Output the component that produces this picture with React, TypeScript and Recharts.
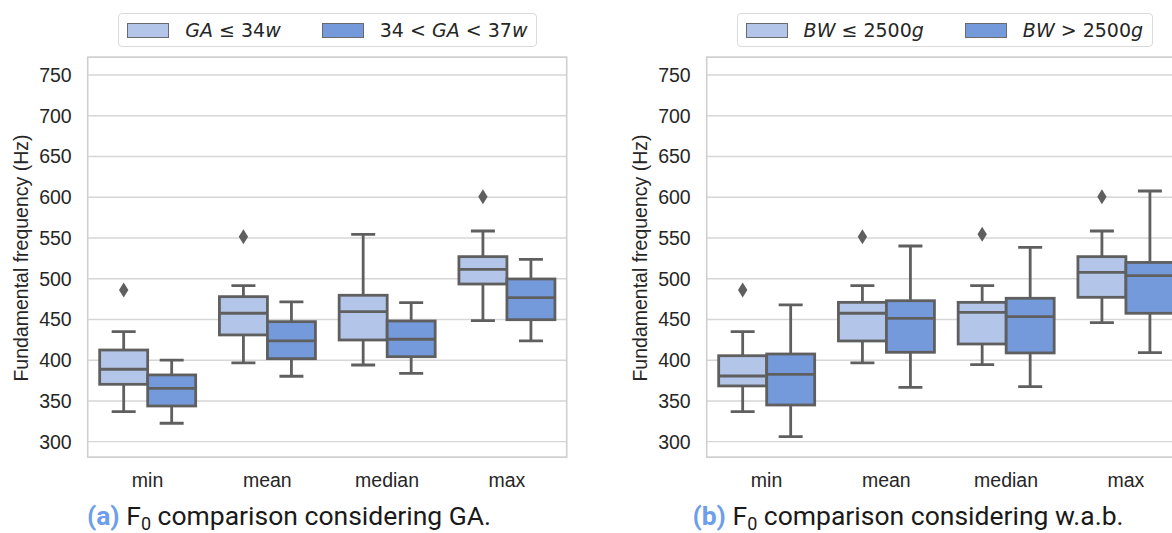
import React from 'react';
import {
  BarChart,
  Bar,
  XAxis,
  YAxis,
  CartesianGrid,
  ReferenceArea,
} from 'recharts';

// categories + axis
const categories = ['min', 'mean', 'median', 'max'];
const yTicks = [300, 350, 400, 450, 500, 550, 600, 650, 700, 750];
const yDomain: [number, number] = [280.8, 771.8];

// (a) GA <= 34w
const gaPreLo = [336.8, 396.6, 394.1, 448.5];
const gaPreQ1 = [370.4, 431.0, 424.8, 493.5];
const gaPreMed = [388.9, 457.6, 459.6, 511.6];
const gaPreQ3 = [412.5, 478.0, 479.7, 527.1];
const gaPreHi = [435.0, 491.5, 554.5, 558.6];
const gaPreOut = [[486.2], [551.6], [], [600.7]];

// (a) 34 < GA < 37w
const gaLateLo = [322.6, 380.3, 383.9, 423.6];
const gaLateQ1 = [343.8, 401.9, 404.3, 449.7];
const gaLateMed = [365.5, 423.6, 425.7, 476.7];
const gaLateQ3 = [381.9, 447.3, 448.1, 499.7];
const gaLateHi = [400.0, 471.5, 470.6, 523.8];
const gaLateOut: number[][] = [[], [], [], []];

// (b) BW <= 2500g
const bwLowLo = [336.8, 396.6, 394.5, 446.0];
const bwLowQ1 = [368.4, 423.6, 419.9, 477.2];
const bwLowMed = [380.6, 457.6, 458.8, 507.9];
const bwLowQ3 = [405.5, 471.0, 471.0, 527.1];
const bwLowHi = [435.0, 491.5, 491.5, 558.6];
const bwLowOut = [[486.2], [551.6], [554.5], [600.7]];

// (b) BW > 2500g
const bwHighLo = [306.1, 366.7, 367.5, 409.2];
const bwHighQ1 = [345.0, 409.7, 408.9, 457.6];
const bwHighMed = [382.7, 451.4, 453.4, 503.7];
const bwHighQ3 = [407.6, 473.0, 476.0, 520.0];
const bwHighHi = [467.8, 540.2, 538.6, 607.7];
const bwHighOut: number[][] = [[], [], [], []];

const LIGHT = '#b3c6e9';
const DARK = '#759adc';
const EDGE = '#5f5f5f';
const TEXT = '#262626';

interface Stats {
  lo: number[];
  q1: number[];
  med: number[];
  q3: number[];
  hi: number[];
  out: number[][];
}

const buildRows = (a: Stats, b: Stats) =>
  categories.map((cat, i) => ({
    cat,
    a: { lo: a.lo[i], q1: a.q1[i], med: a.med[i], q3: a.q3[i], hi: a.hi[i], out: a.out[i] },
    b: { lo: b.lo[i], q1: b.q1[i], med: b.med[i], q3: b.q3[i], hi: b.hi[i], out: b.out[i] },
  }));

// box drawn from the bar rect (q1..q3); other stats placed with the same px/unit ratio
const boxShape = (key: 'a' | 'b', fill: string) => (props: any) => {
  const { x, y, width, height, payload } = props;
  const s = payload[key];
  const top = Math.min(y, y + height);
  const h = Math.abs(height);
  const bottom = top + h;
  const k = h / (s.q3 - s.q1);
  const py = (v: number) => bottom - (v - s.q1) * k;
  const cx = x + width / 2;
  const cap = width / 4;
  return (
    <g>
      <line x1={cx} x2={cx} y1={top} y2={py(s.hi)} stroke={EDGE} strokeWidth={2.8} />
      <line x1={cx} x2={cx} y1={bottom} y2={py(s.lo)} stroke={EDGE} strokeWidth={2.8} />
      <line x1={cx - cap} x2={cx + cap} y1={py(s.hi)} y2={py(s.hi)} stroke={EDGE} strokeWidth={2.8} />
      <line x1={cx - cap} x2={cx + cap} y1={py(s.lo)} y2={py(s.lo)} stroke={EDGE} strokeWidth={2.8} />
      <rect x={x} y={top} width={width} height={h} fill={fill} stroke={EDGE} strokeWidth={2.8} />
      <line x1={x} x2={x + width} y1={py(s.med)} y2={py(s.med)} stroke={EDGE} strokeWidth={2.8} />
      {s.out.map((v: number, i: number) => {
        const oy = py(v);
        return (
          <path
            key={i}
            d={`M${cx},${oy - 7.5}L${cx + 4.7},${oy}L${cx},${oy + 7.5}L${cx - 4.7},${oy}Z`}
            fill={EDGE}
          />
        );
      })}
    </g>
  );
};

const Patch = ({ color }: { color: string }) => (
  <span
    style={{
      display: 'inline-block',
      width: 40,
      height: 13,
      background: color,
      border: '1px solid #6a6a6a',
      marginRight: 16,
    }}
  />
);

interface PanelProps {
  left: number;
  a: Stats;
  b: Stats;
  labelA: React.ReactNode;
  labelB: React.ReactNode;
  legendLeft: number;
  tag: string;
  caption: string;
}

const Panel: React.FC<PanelProps> = ({ left, a, b, labelA, labelB, legendLeft, tag, caption }) => {
  const rows = buildRows(a, b);
  return (
    <div style={{ position: 'absolute', left, top: 0, width: 590, height: 533 }}>
      <BarChart
        width={590}
        height={533}
        data={rows}
        margin={{ top: 57.3, right: 23.3, left: 27.7, bottom: 45.7 }}
        barCategoryGap="10%"
        barGap={0}
      >
        <CartesianGrid vertical={false} stroke="#d6d6d6" strokeWidth={1.4} />
        <XAxis
          dataKey="cat"
          height={30}
          axisLine={false}
          tickLine={false}
          tickSize={0}
          tickMargin={16}
          tick={{ fill: TEXT, fontSize: 19.5, fontFamily: 'Liberation Sans' }}
        />
        <YAxis
          type="number"
          domain={yDomain}
          ticks={yTicks}
          allowDataOverflow
          width={60}
          axisLine={false}
          tickLine={false}
          tickSize={0}
          tickMargin={16}
          tick={{ fill: TEXT, fontSize: 19.5, fontFamily: 'Liberation Sans' }}
        />
        <ReferenceArea y1={yDomain[0]} y2={yDomain[1]} fill="none" stroke="#cfcfcf" strokeWidth={1.6} />
        <Bar dataKey={(d: any) => [d.a.q1, d.a.q3]} shape={boxShape('a', LIGHT)} isAnimationActive={false} />
        <Bar dataKey={(d: any) => [d.b.q1, d.b.q3]} shape={boxShape('b', DARK)} isAnimationActive={false} />
      </BarChart>

      <div
        style={{
          position: 'absolute',
          left: 20.5,
          top: 258,
          transform: 'translate(-50%, -50%) rotate(-90deg)',
          whiteSpace: 'nowrap',
          fontFamily: 'Liberation Sans',
          fontSize: 19.5,
          color: TEXT,
        }}
      >
        Fundamental frequency (Hz)
      </div>

      <div
        style={{
          position: 'absolute',
          left: legendLeft,
          top: 13.3,
          height: 32,
          display: 'flex',
          alignItems: 'center',
          padding: '0 9px 0 8px',
          border: '1.5px solid #dadada',
          borderRadius: 4,
          background: '#fff',
          fontFamily: 'DejaVu Sans',
          fontSize: 19,
          color: TEXT,
          whiteSpace: 'nowrap',
        }}
      >
        <Patch color={LIGHT} />
        <span>{labelA}</span>
        <span style={{ width: 41, display: 'inline-block' }} />
        <Patch color={DARK} />
        <span>{labelB}</span>
      </div>

      <div
        style={{
          position: 'absolute',
          left: 0,
          top: 501,
          width: 578,
          height: 30,
          lineHeight: '30px',
          textAlign: 'center',
          fontFamily: 'Roboto',
          fontSize: 26.5,
          color: '#1a1a1a',
          whiteSpace: 'nowrap',
        }}
      >
        <b style={{ color: '#6d9eea' }}>({tag})</b> F
        <span style={{ fontSize: 18, position: 'relative', top: 5 }}>0</span> {caption}
      </div>
    </div>
  );
};

const gaPre: Stats = { lo: gaPreLo, q1: gaPreQ1, med: gaPreMed, q3: gaPreQ3, hi: gaPreHi, out: gaPreOut };
const gaLate: Stats = { lo: gaLateLo, q1: gaLateQ1, med: gaLateMed, q3: gaLateQ3, hi: gaLateHi, out: gaLateOut };
const bwLow: Stats = { lo: bwLowLo, q1: bwLowQ1, med: bwLowMed, q3: bwLowQ3, hi: bwLowHi, out: bwLowOut };
const bwHigh: Stats = { lo: bwHighLo, q1: bwHighQ1, med: bwHighMed, q3: bwHighQ3, hi: bwHighHi, out: bwHighOut };

export default function App() {
  return (
    <div
      style={{
        position: 'absolute',
        left: 0,
        top: 0,
        width: 1172,
        height: 533,
        overflow: 'hidden',
        background: '#fff',
      }}
    >
      <Panel
        left={0}
        a={gaPre}
        b={gaLate}
        legendLeft={118.3}
        labelA={<><i>GA</i> ≤ 34<i>w</i></>}
        labelB={<>34 &lt; <i>GA</i> &lt; 37<i>w</i></>}
        tag="a"
        caption="comparison considering GA."
      />
      <Panel
        left={619}
        a={bwLow}
        b={bwHigh}
        legendLeft={117.6}
        labelA={<><i>BW</i> ≤ 2500<i>g</i></>}
        labelB={<><i>BW</i> &gt; 2500<i>g</i></>}
        tag="b"
        caption="comparison considering w.a.b."
      />
    </div>
  );
}
